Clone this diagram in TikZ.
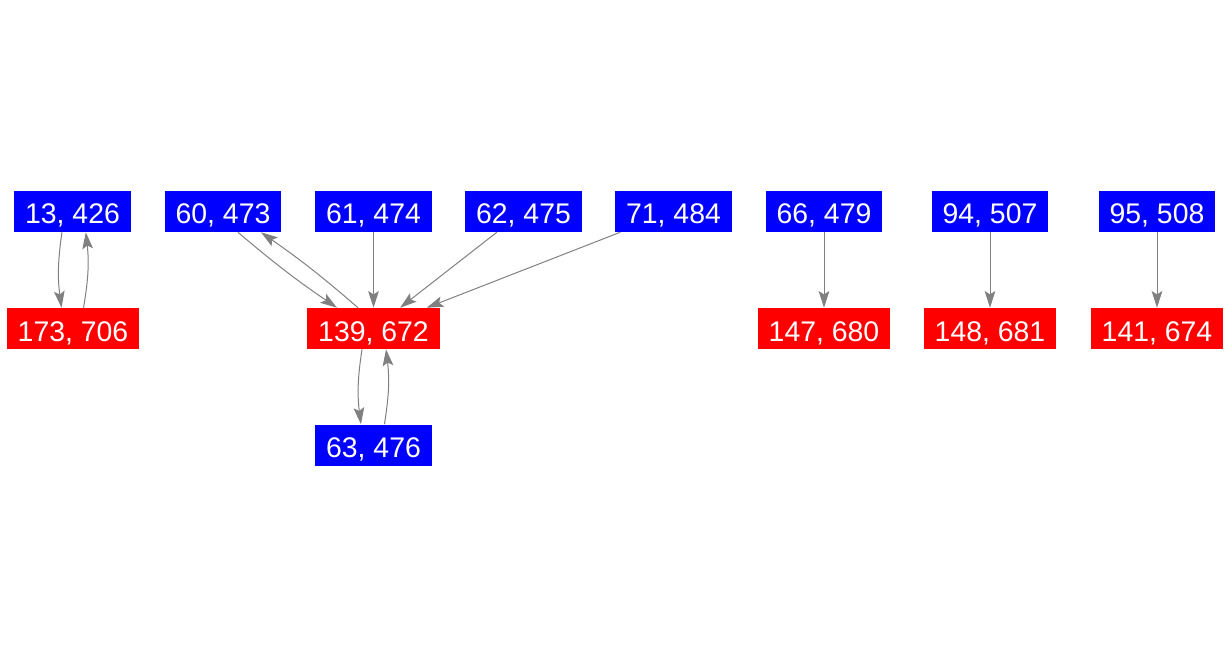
\documentclass[tikz,border=0pt]{standalone}
\usepackage{fontspec}
\setmainfont{Liberation Sans}
\usetikzlibrary{arrows.meta}

\begin{document}
\begin{tikzpicture}[x=0.75pt, y=-0.75pt, >={Stealth[length=12.5pt,width=8pt,inset=2.5pt]},
    vtx/.style={text=white, inner xsep=8.25pt, inner ysep=0pt, minimum height=30.75pt,
        text height=18.75pt, text depth=0pt, font=\fontsize{21.3}{25}\selectfont},
    bluev/.style={vtx, fill=blue},
    redv/.style={vtx, fill=red},
    link/.style={->, draw=gray, line width=0.75pt}]
    \useasboundingbox (0,0) rectangle (1229,656);

    % Top row of blue boxes
    \node[bluev] (n13) at (72.5,211.5) {13, 426};
    \node[bluev] (n60) at (223,211.5) {60, 473};
    \node[bluev] (n61) at (373.5,211.5) {61, 474};
    \node[bluev] (n62) at (523.5,211.5) {62, 475};
    \node[bluev] (n71) at (673.5,211.5) {71, 484};
    \node[bluev] (n66) at (824,211.5) {66, 479};
    \node[bluev] (n94) at (990,211.5) {94, 507};
    \node[bluev] (n95) at (1157,211.5) {95, 508};

    % Red boxes in the middle
    \node[redv] (n173) at (73,328.5) {173, 706};
    \node[redv] (n139) at (373.5,328.5) {139, 672};
    \node[redv] (n147) at (824,328.5) {147, 680};
    \node[redv] (n148) at (990,328.5) {148, 681};
    \node[redv] (n141) at (1157,328.5) {141, 674};

    % Bottom box
    \node[bluev] (n63) at (373.5,445) {63, 476};

    % Pairs going both ways
    \draw[link] ([xshift=-7.9pt]n13.south) to[bend right=8] ([xshift=-8.6pt]n173.north);
    \draw[link] ([xshift=7.9pt]n173.north) to[bend right=8] ([xshift=10pt]n13.south);
    \draw[link] ([xshift=-8.6pt]n139.south) to[bend right=8] ([xshift=-9.4pt]n63.north);
    \draw[link] ([xshift=8.2pt]n63.north) to[bend right=8] ([xshift=9.4pt]n139.south);
    \draw[link] ([xshift=11.2pt]n60.south) to[bend right=3] ([xshift=-27.4pt]n139.north);
    \draw[link] ([xshift=-11.6pt]n139.north) to[bend right=3] ([xshift=28.5pt]n60.south);

    % Single edges
    \draw[link] (n61) -- (n139);
    \draw[link] (n62) -- (n139);
    \draw[link] (n71) -- (n139);
    \draw[link] (n66) -- (n147);
    \draw[link] (n94) -- (n148);
    \draw[link] (n95) -- (n141);

\end{tikzpicture}
\end{document}
